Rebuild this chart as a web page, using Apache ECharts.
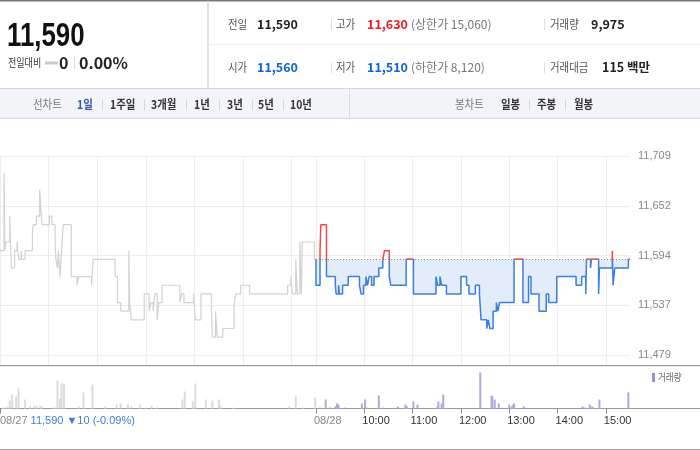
<!DOCTYPE html>
<html><head><meta charset="utf-8">
<script src="https://cdn.jsdelivr.net/npm/echarts@6/dist/echarts.min.js"></script>
<style>html,body{margin:0;padding:0;background:#fff}#c{width:700px;height:450px}</style>
</head><body><div id="c"></div>
<script>
// ---- data (minutes since 09:00 of each session) ----
const prevClose = 11590;
const prevTimes  = [0,5,6,7,12,14,18,21,23,26,27,31,40,41,45,49,51,52,61,64,68,69,71,72,74,76,78,88,95,97,113,115,142,145,149,159,160,162,178,184,186,189,191,194,196,200,222,224,227,239,241,248,261,262,266,268,275,289,291,297,308,355,359,361,365,367,370,372,373,388,390];
const prevPrices = [11600,11690,11600,11610,11640,11580,11600,11610,11590,11600,11590,11600,11620,11630,11640,11670,11640,11630,11640,11630,11610,11590,11580,11600,11570,11600,11630,11570,11560,11570,11560,11590,11570,11540,11530,11600,11540,11520,11550,11530,11540,11530,11550,11520,11540,11560,11540,11550,11540,11550,11520,11550,11530,11500,11530,11500,11510,11540,11550,11560,11550,11560,11570,11550,11590,11550,11610,11550,11610,11590,11590];
const curTimes  = [0,5,6,13,24,25,28,29,33,40,54,56,59,62,64,66,69,72,78,83,85,91,93,112,121,149,151,154,156,162,180,187,190,198,203,205,212,214,216,220,224,226,228,246,257,264,267,277,286,289,299,323,330,335,336,341,342,351,352,368,369,371,388,390];
const curPrices = [11560,11600,11630,11570,11560,11550,11560,11550,11560,11570,11560,11550,11560,11570,11560,11570,11560,11570,11580,11590,11600,11570,11560,11590,11550,11570,11560,11570,11560,11550,11570,11560,11550,11560,11550,11520,11510,11520,11510,11530,11540,11530,11540,11590,11540,11570,11550,11530,11550,11540,11570,11560,11570,11550,11590,11580,11590,11550,11580,11600,11560,11580,11590,11590];
const prevVolTimes = [4,6,9,12,15,20,23,31,37,42,45,50,52,66,68,71,74,76,79,97,103,114,130,144,149,158,162,173,180,187,193,225,228,238,241,254,262,270,272,288,357,365,374,389];
const prevVolumes  = [40,40,90,350,615,530,880,395,90,90,130,130,90,40,40,1230,440,1100,1100,90,705,1055,90,175,220,175,90,175,40,130,40,395,750,310,1100,395,350,395,130,40,90,530,40,485];
const curVolTimes = [5,12,17,24,26,28,36,57,61,64,78,84,102,111,113,121,126,151,152,156,158,204,218,219,222,227,240,243,245,246,258,331,334,340,343,345,352,388];
const curVolumes  = [40,395,40,90,220,175,40,220,395,40,570,40,90,175,90,310,175,90,310,220,615,1585,570,530,395,220,175,90,175,220,90,90,40,175,90,40,395,705];
const priceTickLabels = ['11,479','11,537','11,594','11,652','11,709'];
const timeTickValues = [0,60,120,180,240,300,360];
const timeTickLabels = ['08/28','10:00','11:00','12:00','13:00','14:00','15:00'];
const prevDayLabel = '08/27';
const prevDayChange = '11,590 \u25BC10 (-0.09%)';

// ---- build ----
const P_MIN = 11479.4, P_MAX = 11709.4, P_STEP = 57.5;
const prevLine = prevTimes.map((t,i)=>[t, prevPrices[i]]);
const curLine = [[0, prevClose]].concat(curTimes.map((t,i)=>[t, curPrices[i]]));
const prevBars = prevVolTimes.map((t,i)=>[t, prevVolumes[i]]);
const curBars = curVolTimes.map((t,i)=>[t, curVolumes[i]]);

// price panel geometry; split at previous close so the line is clipped into red (above) / blue (below)
const PT = 156, PH = 199;
const splitY = PT + PH * (P_MAX - prevClose) / (P_MAX - P_MIN);

const KF = '"Noto Sans CJK KR", "Noto Sans", sans-serif';
const NF = '"Liberation Sans", Arial, sans-serif';
function txt(x, y, text, size, color, bold, extra, fam) {
  return Object.assign({
    type: 'text', x: x, y: y, silent: true,
    style: { text: text, fill: color, font: (bold ? 'bold ' : '') + size + 'px ' + (fam || KF),
      textVerticalAlign: 'middle', verticalAlign: 'middle' }
  }, extra || {});
}
function hl(x1, x2, y, c, w) { return {type:'line', silent:true, shape:{x1:x1,y1:y,x2:x2,y2:y}, style:{stroke:c, lineWidth:w||1}}; }
function vl(x, y1, y2, c, w) { return {type:'line', silent:true, shape:{x1:x,y1:y1,x2:x,y2:y2}, style:{stroke:c, lineWidth:w||1}}; }
const SX = {scaleX: 0.87};

const g = [];
g.push({type:'rect', silent:true, shape:{x:0,y:0,width:700,height:1.5}, style:{fill:'#777'}});
g.push(vl(208, 1, 88, '#e2e2e2', 2));
g.push(hl(209, 700, 44.5, '#ececec', 1));
g.push({type:'rect', silent:true, shape:{x:0,y:88,width:700,height:30}, style:{fill:'#f3f4f8'}});
g.push(hl(0, 700, 88.5, '#d5d8de', 1));
g.push(hl(0, 700, 118.5, '#d5d8de', 1));
g.push(vl(349.5, 89, 118, '#d8dbe1', 1));
g.push(txt(7, 37, '11,590', 34, '#111', true, {scaleX: 0.76}, NF));
g.push(txt(8, 63, '전일대비', 11, '#333', false, {scaleX: 0.82}));
g.push({type:'rect', silent:true, shape:{x:45,y:61.5,width:13,height:3}, style:{fill:'#c9c9c9'}});
g.push(txt(59, 63, '0', 16, '#222', true));
g.push(vl(74.5, 57, 69, '#dddddd'));
g.push(txt(79, 63, '0.00%', 16, '#222', true));
const r1 = 24, r2 = 67.5;
g.push(txt(228, r1, '전일', 12, '#555', false, SX));
g.push(txt(257, r1, '11,590', 12.5, '#222', true));
g.push(vl(331.5, r1-5, r1+6, '#dddddd'));
g.push(txt(336, r1, '고가', 12, '#555', false, SX));
g.push(txt(367, r1, '11,630', 12.5, '#f01e1e', true));
g.push(txt(411, r1, '(상한가 15,060)', 12, '#777', false));
g.push(vl(544.5, r1-5, r1+6, '#dddddd'));
g.push(txt(550, r1, '거래량', 12, '#555', false, SX));
g.push(txt(591, r1, '9,975', 12.5, '#222', true));
g.push(txt(228, r2, '시가', 12, '#555', false, SX));
g.push(txt(257, r2, '11,560', 12.5, '#0d63de', true));
g.push(vl(331.5, r2-5, r2+6, '#dddddd'));
g.push(txt(336, r2, '저가', 12, '#555', false, SX));
g.push(txt(367, r2, '11,510', 12.5, '#0d63de', true));
g.push(txt(411, r2, '(하한가 8,120)', 12, '#777', false));
g.push(vl(544.5, r2-5, r2+6, '#dddddd'));
g.push(txt(550, r2, '거래대금', 12, '#555', false, SX));
g.push(txt(602, r2, '115 백만', 12.5, '#222', true));
const ty = 104.5;
g.push(txt(33, ty, '선차트', 12, '#777', false, SX));
g.push(txt(77, ty, '1일', 12, '#2f55b5', true, SX));
[['1주일',110],['3개월',151],['1년',194],['3년',227],['5년',258],['10년',290]].forEach(t => g.push(txt(t[1], ty, t[0], 12, '#333', true, SX)));
[102, 144, 186, 219, 252, 283].forEach(x => g.push(vl(x + 0.5, ty-5, ty+6, '#d6d6d6')));
g.push(txt(455, ty, '봉차트', 12, '#777', false, SX));
[['일봉',501],['주봉',537],['월봉',574]].forEach(t => g.push(txt(t[1], ty, t[0], 12, '#333', true, SX)));
[529, 565].forEach(x => g.push(vl(x + 0.5, ty-5, ty+6, '#d6d6d6')));
g.push(hl(0, 700, 365.5, '#9a9a9a', 1));
g.push(hl(0, 700, 366.5, '#eeeeee', 1));
g.push(hl(0, 700, 408.5, '#9a9a9a', 1));
g.push(hl(0, 700, 449.5, '#9a9a9a', 1));
g.push({type:'rect', silent:true, shape:{x:652,y:373,width:3,height:9}, style:{fill:'#9b8fd3'}});
g.push(txt(658, 377.5, '거래량', 10, '#666', false, {scaleX:0.85}));

const hidden = {axisLine:{show:false}, axisTick:{show:false}, axisLabel:{show:false}, splitLine:{show:false}};
const chart = echarts.init(document.getElementById('c'));
chart.setOption({
  animation: false,
  backgroundColor: '#fff',
  grid: [
    {left:0,   top:PT, width:316, height:PH, outerBoundsMode:'none'},
    {left:316, top:PT, width:314, height:PH, outerBoundsMode:'none'},
    {left:0,   top:PT, width:316, height:209, outerBoundsMode:'none'},
    {left:316, top:PT, width:314, height:209, outerBoundsMode:'none'},
    {left:0,   top:366, width:316, height:42.5, outerBoundsMode:'none'},
    {left:316, top:366, width:314, height:42.5, outerBoundsMode:'none'},
    {left:316, top:splitY, width:314, height:PT + PH - splitY, outerBoundsMode:'none'},
    {left:316, top:PT, width:314, height:splitY - PT, outerBoundsMode:'none'}
  ],
  xAxis: [
    Object.assign({type:'value', gridIndex:0, min:0, max:390}, hidden),
    Object.assign({type:'value', gridIndex:1, min:0, max:390}, hidden),
    {type:'value', gridIndex:2, min:0, max:390, interval:60, axisLine:{show:false}, axisTick:{show:false}, axisLabel:{show:false},
      splitLine:{show:true, lineStyle:{color:'#ededed', width:1}}},
    {type:'value', gridIndex:3, min:0, max:390, interval:60, axisLine:{show:false}, axisTick:{show:false}, axisLabel:{show:false},
      splitLine:{show:true, showMaxLine:false, lineStyle:{color:'#ededed', width:1}}},
    {type:'value', gridIndex:4, min:0, max:390, interval:390, axisLine:{show:false}, splitLine:{show:false},
      axisTick:{show:true, customValues:[0], length:5, lineStyle:{color:'#888'}},
      axisLabel:{show:true, customValues:[0], align:'left', margin:7, fontSize:11, fontFamily:NF,
        formatter: v => v === 0 ? '{d|' + prevDayLabel + '} {v|' + prevDayChange + '}' : '',
        rich:{d:{color:'#888', fontSize:11, fontFamily:NF}, v:{color:'#3a7ee0', fontSize:11, fontFamily:NF}}}},
    {type:'value', gridIndex:5, min:0, max:390, interval:60, axisLine:{show:false}, splitLine:{show:false},
      axisTick:{show:true, customValues:timeTickValues, length:5, lineStyle:{color:'#888'}},
      axisLabel:{show:true, customValues:timeTickValues, margin:7, fontSize:11, fontFamily:NF, align:'left', padding:[0,0,0,-2],
        color: v => (Number(v) === 0 ? '#888' : '#333'),
        formatter: v => { const i = timeTickValues.indexOf(Math.round(v)); return i >= 0 ? timeTickLabels[i] : ''; }}},
    Object.assign({type:'value', gridIndex:6, min:0, max:390}, hidden),
    Object.assign({type:'value', gridIndex:7, min:0, max:390}, hidden)
  ],
  yAxis: [
    {type:'value', gridIndex:0, min:P_MIN, max:P_MAX, interval:P_STEP, axisLine:{show:false}, axisTick:{show:false}, axisLabel:{show:false},
      splitLine:{show:true, lineStyle:{color:'#ededed'}}},
    {type:'value', gridIndex:1, min:P_MIN, max:P_MAX, interval:P_STEP, position:'right', axisLine:{show:false}, axisTick:{show:false},
      axisLabel:{show:true, margin:8, color:'#888', fontSize:11, fontFamily:NF,
        formatter: (v, i) => priceTickLabels[i] !== undefined ? priceTickLabels[i] : Math.round(v).toLocaleString('en-US')},
      splitLine:{show:true, lineStyle:{color:'#ededed'}}},
    Object.assign({type:'value', gridIndex:2, min:0, max:1}, hidden),
    Object.assign({type:'value', gridIndex:3, min:0, max:1}, hidden),
    Object.assign({type:'value', gridIndex:4, min:0, max:1870}, hidden),
    Object.assign({type:'value', gridIndex:5, min:0, max:1870}, hidden),
    Object.assign({type:'value', gridIndex:6, min:P_MIN, max:prevClose}, hidden),
    Object.assign({type:'value', gridIndex:7, min:prevClose, max:P_MAX}, hidden)
  ],
  series: [
    {type:'line', xAxisIndex:0, yAxisIndex:0, data:prevLine, step:'end', symbol:'none', silent:true,
      lineStyle:{color:'#d2d2d2', width:1.2}},
    {type:'line', xAxisIndex:6, yAxisIndex:6, data:curLine, step:'end', symbol:'none', silent:true, clip:true,
      lineStyle:{width:0, opacity:0}, itemStyle:{color:'#3b7fe0'}, areaStyle:{color:'#e3ecf9', opacity:1, origin:'end'}},
    {type:'line', xAxisIndex:6, yAxisIndex:6, data:curLine, step:'end', symbol:'none', silent:true, clip:true,
      lineStyle:{color:'#3b7fe0', width:1.5}, itemStyle:{color:'#3b7fe0'}},
    {type:'line', xAxisIndex:7, yAxisIndex:7, data:curLine, step:'end', symbol:'none', silent:true, clip:true,
      lineStyle:{color:'#f24848', width:1.5}, itemStyle:{color:'#f24848'}},
    {type:'line', xAxisIndex:1, yAxisIndex:1, data:[], symbol:'none', silent:true,
      markLine:{silent:true, symbol:['none','none'], label:{show:false}, animation:false,
        lineStyle:{color:'#8a8a8a', type:[1,2], width:1}, data:[{yAxis:prevClose}]}},
    {type:'bar', xAxisIndex:4, yAxisIndex:4, data:prevBars, barWidth:2, silent:true, itemStyle:{color:'#dcdcdc'}},
    {type:'bar', xAxisIndex:5, yAxisIndex:5, data:curBars, barWidth:2, silent:true, itemStyle:{color:'#b2a7df'}}
  ],
  graphic: {elements: g}
});
</script>
</body></html>
